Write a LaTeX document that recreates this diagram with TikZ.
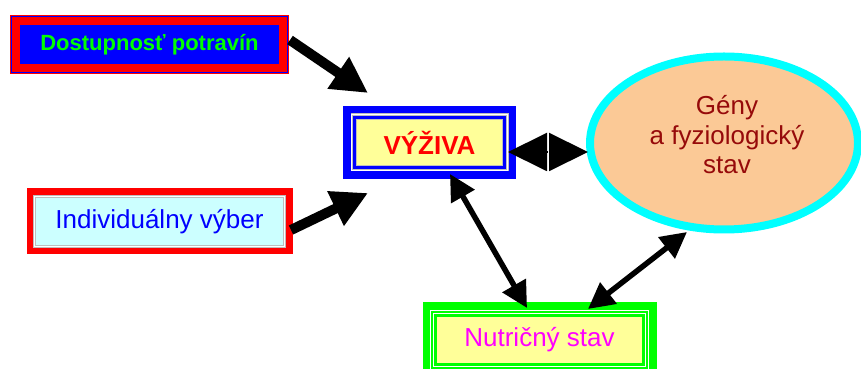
\documentclass[tikz,border=0pt]{standalone}
\usepackage{fontspec}
\setmainfont{Liberation Sans}
\usepackage{tikz}
\usetikzlibrary{shapes, arrows.meta}

\definecolor{pred}{RGB}{255,0,0}
\definecolor{pblue}{RGB}{0,0,255}
\definecolor{pgreen}{RGB}{0,255,0}
\definecolor{pgray}{RGB}{190,190,190}
\definecolor{pcyanl}{RGB}{204,255,255}
\definecolor{pyellow}{RGB}{255,255,153}
\definecolor{pmagenta}{RGB}{255,0,255}
\definecolor{pcyan}{RGB}{0,255,255}
\definecolor{ppeach}{RGB}{251,201,150}
\definecolor{pdarkred}{RGB}{150,10,10}

\begin{document}
\begin{tikzpicture}[x=1pt, y=1pt,
        box/.style = {rectangle, inner sep=0pt, outer sep=0pt, font=\fontsize{26}{29.5}\selectfont},
        dostbox/.style = {box, fill=pblue, text=pgreen, minimum width=259pt, minimum height=39pt,
                font=\fontsize{22}{26}\selectfont\bfseries,
                preaction={draw=pred, line width=20pt}, preaction={draw=pblue, line width=17.6pt},
                preaction={draw=pred, line width=16pt}},
        indbox/.style = {box, fill=pcyanl, text=pblue, minimum width=247pt, minimum height=47pt,
                preaction={draw=pred, line width=19pt}, preaction={draw=pgray, line width=6pt},
                preaction={draw=white, line width=4.6pt}, preaction={draw=pgray, line width=1.6pt}},
        vyzbox/.style = {box, fill=pyellow, text=pred, minimum width=145pt, minimum height=45pt,
                font=\fontsize{26}{29.5}\selectfont\bfseries,
                preaction={draw=pblue, line width=28pt}, preaction={draw=pgray, line width=13pt},
                preaction={draw=white, line width=11.6pt}, preaction={draw=pgray, line width=9.4pt},
                preaction={draw=pblue, line width=8pt}, preaction={draw=pgray, line width=1.4pt}},
        nutbox/.style = {box, fill=pyellow, text=pmagenta, minimum width=205pt, minimum height=46pt,
                preaction={draw=pgreen, line width=29pt}, preaction={draw=white, line width=13.6pt},
                preaction={draw=pgreen, line width=12pt}, preaction={draw=white, line width=7.6pt},
                preaction={draw=pgreen, line width=6pt}},
        genell/.style = {draw=pcyan, line width=8pt, fill=ppeach, ellipse, inner sep=0pt, outer sep=0pt,
                minimum width=268pt, minimum height=173pt},
        gentext/.style = {text=pdarkred, align=center, font=\fontsize{26}{29.5}\selectfont},
        bigarrow/.style = {line width=10pt, -{Triangle[length=36pt, width=36pt]}},
        halfarrow/.style = {line width=2pt, shorten <=0.8pt, -{Triangle[length=39pt, width=38pt]}},
        midarrow/.style = {line width=5.5pt, {Triangle[length=26pt, width=26pt]}-{Triangle[length=26pt, width=26pt]}}]
                \useasboundingbox (0,0) rectangle (861,369);

                \node[dostbox] at (149.5, 324.5) (dost) {Dostupnosť potravín};
                \node[indbox] at (159.5, 147.5) (ind) {Individuálny výber};
                \node[vyzbox] at (429.5, 226.5) (vyz) {VÝŽIVA};
                \node[nutbox] at (539.5, 29) (nut) {Nutričný stav};
                \node[genell, label={[gentext, xshift=3pt, yshift=8pt]center:{Gény\\a fyziologický\\stav}}] at (724, 226) (gen) {};

                \coordinate (vmid) at (548, 217);

                \draw[bigarrow] ([xshift=11pt, yshift=-15pt]dost.north east) -- ([xshift=11pt, yshift=27pt]vyz.north west);
                \draw[bigarrow] ([xshift=8pt, yshift=-32pt]ind.north east) -- ([xshift=11pt, yshift=-28pt]vyz.south west);

                \draw[halfarrow] (vmid) -- ([xshift=6pt, yshift=-9.5pt]vyz.east);
                \draw[halfarrow] (vmid) -- ([xshift=-2pt, yshift=-9pt]gen.west);

                \draw[midarrow] ([xshift=20.5pt, yshift=-9pt]vyz.south) -- ([xshift=-12.5pt, yshift=9pt]nut.north);
                \draw[midarrow] ([xshift=48.5pt, yshift=8pt]nut.north) -- ([xshift=-37pt, yshift=-2.5pt]gen.south);
            \end{tikzpicture}
\end{document}
